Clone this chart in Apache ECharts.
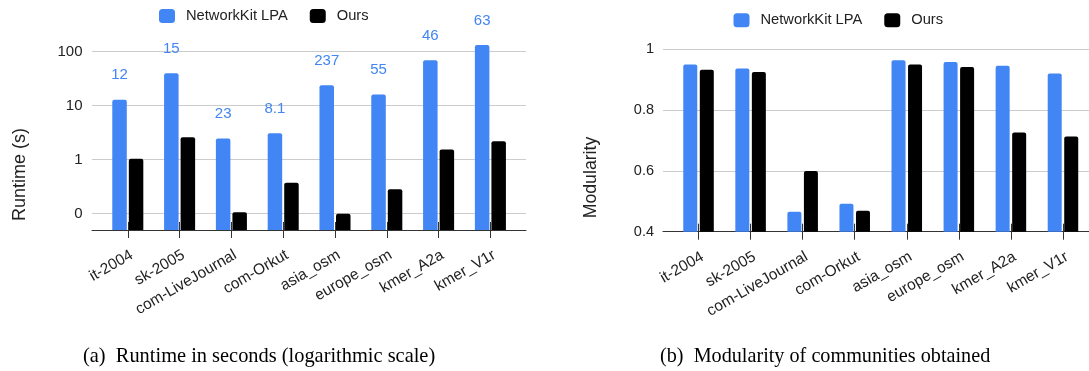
<!DOCTYPE html>
<html><head><meta charset="utf-8">
<script src="https://cdn.jsdelivr.net/npm/echarts@6/dist/echarts.min.js"></script>
<style>html,body{margin:0;padding:0;background:#fff}#c{width:1089px;height:371px}</style>
</head><body><div id="c"></div>
<script>
const categories = ['it-2004','sk-2005','com-LiveJournal','com-Orkut','asia_osm','europe_osm','kmer_A2a','kmer_V1r'];
const seriesNames = ['NetworkKit LPA','Ours'];
const runtimeNetworkKit = [12.8, 39.8, 2.45, 3.08, 23.9, 16.0, 69, 132];
const runtimeOurs = [1.04, 2.6, 0.107, 0.375, 0.1, 0.283, 1.54, 2.18];
const speedupLabels = ['12','15','23','8.1','237','55','46','63'];
const modularityNetworkKit = [0.950, 0.937, 0.466, 0.492, 0.964, 0.958, 0.946, 0.920];
const modularityOurs = [0.933, 0.925, 0.600, 0.469, 0.950, 0.942, 0.726, 0.713];
const runtimeTickValues = [0.1, 1, 10, 100];
const runtimeTickLabels = ['0','1','10','100'];
const modularityTickValues = [0.4, 0.6, 0.8, 1];
const modularityTickLabels = ['0.4','0.6','0.8','1'];
const captions = ['(a)  Runtime in seconds (logarithmic scale)', '(b)  Modularity of communities obtained'];
const axisTitles = ['Runtime (s)', 'Modularity'];

const BLUE = '#4285F4';
const SANS = 'Liberation Sans';
const SERIF = 'Liberation Serif';

function lookup(vals, labels, v) {
  for (let i = 0; i < vals.length; i++) if (Math.abs(vals[i] - v) / vals[i] < 1e-6) return labels[i];
  return '';
}

const catAxis = (gridIndex) => ({
  type: 'category', gridIndex, data: categories, position: 'bottom', offset: -8,
  axisLine: { show: false },
  axisTick: { show: true, alignWithLabel: true, length: 16, lineStyle: { color: '#333', width: 1 } },
  axisLabel: { rotate: 30, margin: 25, verticalAlign: 'top', fontFamily: SANS, fontSize: 15.5, color: '#222', interval: 0 },
  splitLine: { show: false }
});
const lineXAxis = (gridIndex) => ({
  type: 'value', gridIndex, min: 0, max: 1, position: 'bottom',
  axisLine: { show: true, lineStyle: { color: '#333', width: 1 } },
  axisTick: { show: false }, axisLabel: { show: false }, splitLine: { show: false }
});

const option = {
  animation: false,
  backgroundColor: '#fff',
  title: [
    { text: captions[0], left: 83, top: 347, padding: 0, textStyle: { fontFamily: SERIF, fontSize: 20.4, fontWeight: 'normal', color: '#000' } },
    { text: captions[1], left: 660, top: 347, padding: 0, textStyle: { fontFamily: SERIF, fontSize: 20.2, fontWeight: 'normal', color: '#000' } }
  ],
  legend: [
    { data: seriesNames, left: 159, top: 8.5, padding: 0, itemWidth: 16, itemHeight: 14, itemGap: 22, icon: 'roundRect',
      textStyle: { fontFamily: SANS, fontSize: 14.7, color: '#222', padding: [0, 0, 0, 6] } },
    { data: seriesNames, left: 733.5, top: 12.7, padding: 0, itemWidth: 16, itemHeight: 14, itemGap: 22, icon: 'roundRect',
      textStyle: { fontFamily: SANS, fontSize: 14.7, color: '#222', padding: [0, 0, 0, 6] } }
  ],
  graphic: [
    { type: 'text', x: 19.8, y: 174.5, rotation: Math.PI / 2, style: { text: axisTitles[0], font: '18px "Liberation Sans"', fill: '#222', textAlign: 'center', textVerticalAlign: 'middle' } },
    { type: 'text', x: 590.8, y: 177.5, rotation: Math.PI / 2, style: { text: axisTitles[1], font: '17.7px "Liberation Sans"', fill: '#222', textAlign: 'center', textVerticalAlign: 'middle' } }
  ],
  grid: [
    { left: 101.9, top: 30, width: 414.4, height: 200 },
    { left: 92, top: 30, width: 434, height: 200 },
    { left: 672.5, top: 49.3, width: 417.6, height: 182.4 },
    { left: 663, top: 49.3, width: 440, height: 182.4 }
  ],
  xAxis: [ catAxis(0), lineXAxis(1), catAxis(2), lineXAxis(3) ],
  yAxis: [
    { type: 'log', gridIndex: 0, min: 0.05, max: 250, startValue: 0.05, show: false, splitLine: { show: false } },
    { type: 'log', gridIndex: 1, min: 0.05, max: 250,
      axisLine: { show: false }, axisTick: { show: false },
      axisLabel: { showMinLabel: false, showMaxLabel: false, margin: 9.5, fontFamily: SANS, fontSize: 15, color: '#222',
        formatter: v => lookup(runtimeTickValues, runtimeTickLabels, v) },
      splitLine: { show: true, showMinLine: false, showMaxLine: false, lineStyle: { color: '#cccccc', width: 1 } } },
    { type: 'value', gridIndex: 2, min: 0.4, max: 1, show: false, splitLine: { show: false } },
    { type: 'value', gridIndex: 3, min: 0.4, max: 1, interval: 0.2,
      axisLine: { show: false }, axisTick: { show: false },
      axisLabel: { margin: 9, fontFamily: SANS, fontSize: 14.5, color: '#222',
        formatter: v => lookup(modularityTickValues, modularityTickLabels, v) },
      splitLine: { show: true, showMinLine: false, lineStyle: { color: '#cccccc', width: 1 } } }
  ],
  series: [
    { name: seriesNames[0], type: 'bar', xAxisIndex: 0, yAxisIndex: 0, data: runtimeNetworkKit, barWidth: 14.5, barGap: '14%',
      itemStyle: { color: BLUE, borderRadius: [2, 2, 0, 0] },
      label: { show: true, position: 'top', distance: 17, color: BLUE, fontFamily: SANS, fontSize: 15,
        formatter: p => speedupLabels[p.dataIndex] } },
    { name: seriesNames[1], type: 'bar', xAxisIndex: 0, yAxisIndex: 0, data: runtimeOurs, barWidth: 14.5, barGap: '14%',
      itemStyle: { color: '#000', borderRadius: [2, 2, 0, 0] } },
    { name: seriesNames[0], type: 'bar', xAxisIndex: 2, yAxisIndex: 2, data: modularityNetworkKit, barWidth: 14, barGap: '18%',
      itemStyle: { color: BLUE, borderRadius: [2, 2, 0, 0] } },
    { name: seriesNames[1], type: 'bar', xAxisIndex: 2, yAxisIndex: 2, data: modularityOurs, barWidth: 14, barGap: '18%',
      itemStyle: { color: '#000', borderRadius: [2, 2, 0, 0] } }
  ]
};
const chart = echarts.init(document.getElementById('c'), null, { renderer: 'canvas' });
chart.setOption(option);
</script></body></html>
